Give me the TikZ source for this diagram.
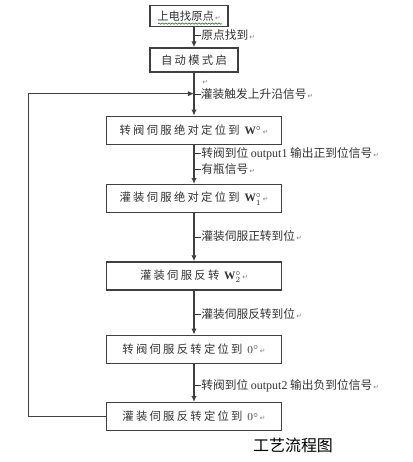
\documentclass[tikz,border=0pt]{standalone}
\usepackage{fontspec}
\setmainfont{Liberation Serif}
\newfontfamily\cjk{Noto Sans CJK SC}
\newfontfamily\cjkwide[LetterSpace=20]{Noto Sans CJK SC}
\newfontfamily\retfont{DejaVu Sans}
\usetikzlibrary{arrows.meta, positioning, decorations.pathmorphing}
\newcommand{\retmark}{{\retfont\fontsize{5pt}{5pt}\selectfont\color{gray}\,↵}}
\newcommand{\leadline}{\rule[0.3em]{5pt}{0.6pt}}
\newcommand{\outname}[1]{{\rmfamily\fontsize{9pt}{9pt}\selectfont #1}}
\tikzstyle{flowbox} = [rectangle, 
minimum width=131.25pt, 
minimum height=21pt, 
text centered, 
draw=black!75, line width=1pt, 
text=black!80,
font=\cjkwide\fontsize{8.5pt}{9pt}\selectfont]
\tikzstyle{cond} = [anchor=west, inner sep=0pt, 
text=black!80,
font=\cjk\fontsize{8.8pt}{9pt}\selectfont]
\tikzstyle{line} = [line width=1pt, draw=black!75]
\tikzstyle{arrow} = [line, -{Latex[length=4.5pt,width=4pt]}]

\begin{document}
\begin{tikzpicture}[x=1pt, y=1pt]
        \useasboundingbox (0,0) rectangle (309,-346.5);

        \node (box2) [flowbox, minimum width=66pt, minimum height=18pt] at (145.5,-45) {自动模式启};
        \node (box1) [flowbox, font=\cjk\fontsize{8.5pt}{9pt}\selectfont, minimum width=58.5pt, minimum height=15.75pt, above=15pt of box2, xshift=-3.75pt] {上电找原点\retmark};
        \node (box3) [flowbox, below=32.25pt of box2] {转阀伺服绝对定位到 $\mathbf{W}^{\circ}$\retmark};
        \node (box4) [flowbox, below=29.25pt of box3] {灌装伺服绝对定位到 $\mathbf{W}_1^{\circ}$\retmark};
        \node (box5) [flowbox, below=36pt of box4] {灌装伺服反转 $\mathbf{W}_2^{\circ}$\retmark};
        \node (box6) [flowbox, below=33pt of box5] {转阀伺服反转定位到 $0^{\circ}$\retmark};
        \node (box7) [flowbox, below=28.5pt of box6] {灌装伺服反转定位到 $0^{\circ}$\retmark};
        \coordinate [above=16.5pt of box3] (merge);

        % grammar mark under first box
        \draw [green!60!black, line width=0.5pt, decorate, decoration={snake, amplitude=0.5pt, segment length=2.5pt}] ([xshift=6.5pt,yshift=2.8pt]box1.south west) -- ([xshift=-5pt,yshift=2.8pt]box1.south east);

        \draw [arrow] (box1.south -| box2.north) -- node[cond, pos=0.4] {\leadline 原点找到\retmark} (box2.north);
        \draw [line] (box2.south) -- node[cond, pos=0.45, xshift=5pt] {\retmark} (merge);
        \draw [arrow] (merge) -- (box3.north);
        \node [cond] at (merge) {\leadline 灌装触发上升沿信号\retmark};

        \draw [arrow] (box3) -- node[cond, pos=0.23] {\leadline 转阀到位 \outname{output1} 输出正到位信号\retmark}
                                node[cond, pos=0.62] {\leadline 有瓶信号\retmark} (box4);
        \draw [arrow] (box4) -- node[cond, pos=0.48] {\leadline 灌装伺服正转到位\retmark} (box5);
        \draw [arrow] (box5) -- node[cond, pos=0.52] {\leadline 灌装伺服反转到位\retmark} (box6);
        \draw [arrow] (box6) -- node[cond, pos=0.58] {\leadline 转阀到位 \outname{output2} 输出负到位信号\retmark} (box7);

        \draw [arrow] (box7.west) -- ++(-57.75,0) |- (merge);

        \node (title) at (219.75,-333.75) {\cjk\fontsize{12pt}{12pt}\selectfont 工艺流程图};
\end{tikzpicture}
\end{document}
